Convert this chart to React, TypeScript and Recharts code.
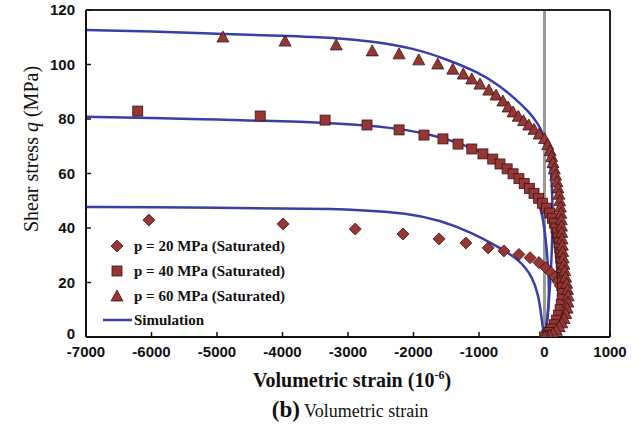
import { ComposedChart, Line, Scatter, XAxis, YAxis, ReferenceLine, Legend, Label } from 'recharts';

const xTicks = [-7000, -6000, -5000, -4000, -3000, -2000, -1000, 0, 1000];
const yTicks = [0, 20, 40, 60, 80, 100, 120];

// measured points: [volumetric strain (1e-6), q (MPa)]
const p20: [number, number][] = [
  [-6040, 42.9], [-3990, 41.5], [-2890, 39.6], [-2160, 37.8], [-1610, 36], [-1200, 34.5],
  [-860, 32.7], [-620, 31.6], [-390, 30.3], [-220, 29.1], [-85, 27.3], [20, 25.4], [100, 23.6],
  [160, 22], [205, 20.4], [240, 18.8], [270, 17.2], [295, 15.6], [310, 14], [315, 12.3],
  [310, 10.6], [295, 8.8], [270, 7], [235, 5.4], [190, 3.9], [140, 2.5], [90, 1.3], [45, 0.5], [0, 0],
];

const p40: [number, number][] = [
  [-6210, 82.9], [-4340, 81.1], [-3350, 79.6], [-2710, 77.8], [-2220, 76], [-1840, 74.1],
  [-1550, 72.7], [-1320, 70.8], [-1110, 69], [-940, 67.2], [-790, 65.3], [-680, 63.5],
  [-570, 61.7], [-480, 59.9], [-390, 58.1], [-310, 56.3], [-230, 54.5], [-160, 52.7],
  [-90, 50.9], [-30, 49.1], [30, 47.3], [80, 45.5], [120, 43.6], [150, 41.8], [175, 40],
  [195, 38.2], [210, 36.3], [222, 34.5], [232, 32.7], [240, 30.9], [248, 29], [255, 27.2],
  [262, 25.4], [268, 23.6], [274, 21.8], [278, 20], [280, 18], [278, 16], [270, 14], [256, 12],
  [238, 10], [215, 8], [185, 6.2], [150, 4.5], [110, 3], [70, 1.7], [35, 0.7], [0, 0],
];

const p60: [number, number][] = [
  [-4910, 110.1], [-3960, 108.6], [-3180, 107.2], [-2630, 105], [-2220, 103.9], [-1920, 101.7],
  [-1630, 100.2], [-1400, 98.3], [-1240, 96.5], [-1110, 94.7], [-985, 92.8], [-850, 90.6],
  [-740, 88.8], [-635, 86.6], [-555, 84.4], [-480, 82.6], [-400, 81], [-320, 79.4], [-240, 77.8],
  [-160, 76.2], [-80, 74.5], [0, 72.8], [50, 70.6], [85, 68.4], [110, 66.2], [130, 64],
  [150, 61.7], [170, 59.4], [190, 57], [205, 54.7], [220, 52.4], [232, 50], [242, 47.7],
  [250, 45.4], [256, 43], [260, 40.7], [264, 38.4], [268, 36], [272, 33.7], [278, 31.4],
  [286, 29], [296, 26.7], [308, 24.4], [322, 22], [338, 19.7], [352, 17.4], [360, 15.1],
  [358, 12.8], [345, 10.6], [325, 8.6], [298, 6.8], [265, 5.2], [225, 3.8], [180, 2.5],
  [130, 1.4], [80, 0.6], [30, 0.2], [0, 0],
];

const sim20: [number, number][] = [
  [-7000, 47.7], [-6000, 47.6], [-5000, 47.4], [-4000, 47.2], [-3200, 47], [-2800, 46.5],
  [-2100, 45.5], [-1600, 42.9], [-1100, 38.2], [-700, 33], [-380, 28.3], [-180, 22],
  [-90, 15], [-55, 9], [-30, 4], [0, 0],
];

const sim40: [number, number][] = [
  [-7000, 80.8], [-6000, 80.4], [-5000, 79.8], [-4000, 79.2], [-3000, 78.2], [-2400, 77],
  [-1800, 74.8], [-1300, 71.2], [-900, 67.2], [-600, 63], [-350, 58.5], [-180, 54], [-60, 48],
  [0, 40], [35, 32], [60, 24], [70, 17], [60, 10], [35, 4], [0, 0],
];

const sim60: [number, number][] = [
  [-7000, 112.7], [-6000, 112.1], [-5000, 111.3], [-4000, 110.5], [-3200, 109.8], [-2600, 108.4],
  [-2000, 106], [-1500, 102], [-1000, 97], [-700, 92.5], [-450, 87.5], [-250, 83], [-100, 78.5],
  [0, 73.5], [60, 68], [100, 61], [120, 52], [125, 43], [115, 33], [95, 23], [70, 14], [40, 6], [0, 0],
];

const toPts = (arr: [number, number][]) => arr.map(([x, q]) => ({ x, q }));

const MARK_FILL = '#963735';
const MARK_STROKE = '#3a1414';
const SIM_BLUE = '#393fa6';
const serif = '"Liberation Serif", "Times New Roman", serif';
const sans = '"Liberation Sans", Arial, sans-serif';

const Diamond = ({ cx, cy }: any) => (
  <polygon points={`${cx},${cy - 6} ${cx + 6},${cy} ${cx},${cy + 6} ${cx - 6},${cy}`} fill={MARK_FILL} stroke={MARK_STROKE} strokeWidth={0.8} />
);
const Square = ({ cx, cy }: any) => (
  <rect x={cx - 5} y={cy - 5} width={10} height={10} fill={MARK_FILL} stroke={MARK_STROKE} strokeWidth={0.8} />
);
const Triangle = ({ cx, cy }: any) => (
  <polygon points={`${cx},${cy - 6} ${cx + 6},${cy + 5} ${cx - 6},${cy + 5}`} fill={MARK_FILL} stroke={MARK_STROKE} strokeWidth={0.8} />
);

// y tick; the "0" is lifted a little so it clears the "-7000" below it
const YTick = ({ x, y, payload }: any) => (
  <text x={x} y={payload.value === 0 ? y - 3 : y} dy="0.355em" textAnchor="end" fill="#111" fontSize={15} fontWeight="bold" fontFamily={sans}>
    {payload.value}
  </text>
);

const legendRows = ['p = 20 MPa (Saturated)', 'p = 40 MPa (Saturated)', 'p = 60 MPa (Saturated)', 'Simulation'];

function LegendBox() {
  const ys = [10, 35, 60, 84];
  return (
    <svg width={200} height={100} style={{ overflow: 'visible' }}>
      <Diamond cx={17} cy={ys[0]} />
      <Square cx={17} cy={ys[1]} />
      <Triangle cx={17} cy={ys[2]} />
      <line x1={3} x2={32} y1={ys[3]} y2={ys[3]} stroke={SIM_BLUE} strokeWidth={2.5} />
      {legendRows.map((t, i) => (
        <text key={t} x={34} y={ys[i] + 5} fontFamily={serif} fontWeight="bold" fontSize={15} fill="#111">{t}</text>
      ))}
    </svg>
  );
}

const XTitle = () => (
  <g>
    <text x={352} y={387} textAnchor="middle" fontFamily={serif} fontWeight="bold" fontSize={20} fill="#111">
      Volumetric strain (10<tspan fontSize={12} dy={-8}>-6</tspan><tspan dy={8}>)</tspan>
    </text>
    <text x={350} y={417} textAnchor="middle" fontFamily={serif} fill="#111">
      <tspan fontWeight="bold" fontSize={23}>(b)</tspan>
      <tspan fontSize={18}> Volumetric strain</tspan>
    </text>
  </g>
);

const YTitle = () => (
  <text x={0} y={0} transform="translate(38,149) rotate(-90)" textAnchor="middle" fontFamily={serif} fontSize={20} fill="#111">
    Shear stress <tspan fontStyle="italic">q</tspan> (MPa)
  </text>
);

export default function App() {
  const axisLine = { stroke: '#111', strokeWidth: 2 };
  const tickLine = { stroke: '#111', strokeWidth: 1.5 };
  const tick = { fill: '#111', fontSize: 15, fontWeight: 'bold', fontFamily: sans };
  return (
    <div style={{ position: 'absolute', left: 0, top: 0, width: 638, height: 428, background: '#fff' }}>
      <ComposedChart width={638} height={428} margin={{ top: 10, right: 28, left: 0, bottom: 61 }}>
        <XAxis
          type="number"
          dataKey="x"
          domain={[-7000, 1000]}
          ticks={xTicks}
          interval={0}
          allowDataOverflow
          height={30}
          tickSize={-5}
          tickMargin={14}
          axisLine={axisLine}
          tickLine={tickLine}
          tick={tick}
        >
          <Label content={XTitle} />
        </XAxis>
        <YAxis
          type="number"
          dataKey="q"
          domain={[0, 120]}
          ticks={yTicks}
          interval={0}
          allowDataOverflow
          width={86}
          tickSize={-5}
          tickMargin={16}
          axisLine={axisLine}
          tickLine={tickLine}
          tick={YTick}
        >
          <Label content={YTitle} />
        </YAxis>
        <ReferenceLine x={0} stroke="#9a9a9a" strokeWidth={3} />
        <ReferenceLine y={120} stroke="#222" strokeWidth={2} />
        <ReferenceLine x={1000} stroke="#222" strokeWidth={2} />
        <Line data={toPts(sim20)} dataKey="q" type="basis" stroke={SIM_BLUE} strokeWidth={2.5} dot={false} isAnimationActive={false} />
        <Line data={toPts(sim40)} dataKey="q" type="basis" stroke={SIM_BLUE} strokeWidth={2.5} dot={false} isAnimationActive={false} />
        <Line data={toPts(sim60)} dataKey="q" type="basis" stroke={SIM_BLUE} strokeWidth={2.5} dot={false} isAnimationActive={false} />
        <Scatter data={toPts(p20)} shape={Diamond} isAnimationActive={false} />
        <Scatter data={toPts(p40)} shape={Square} isAnimationActive={false} />
        <Scatter data={toPts(p60)} shape={Triangle} isAnimationActive={false} />
        <Legend
          layout="vertical"
          align="center"
          verticalAlign="middle"
          content={LegendBox}
          wrapperStyle={{ left: 100, top: 236, width: 200, height: 100 }}
        />
      </ComposedChart>
    </div>
  );
}
